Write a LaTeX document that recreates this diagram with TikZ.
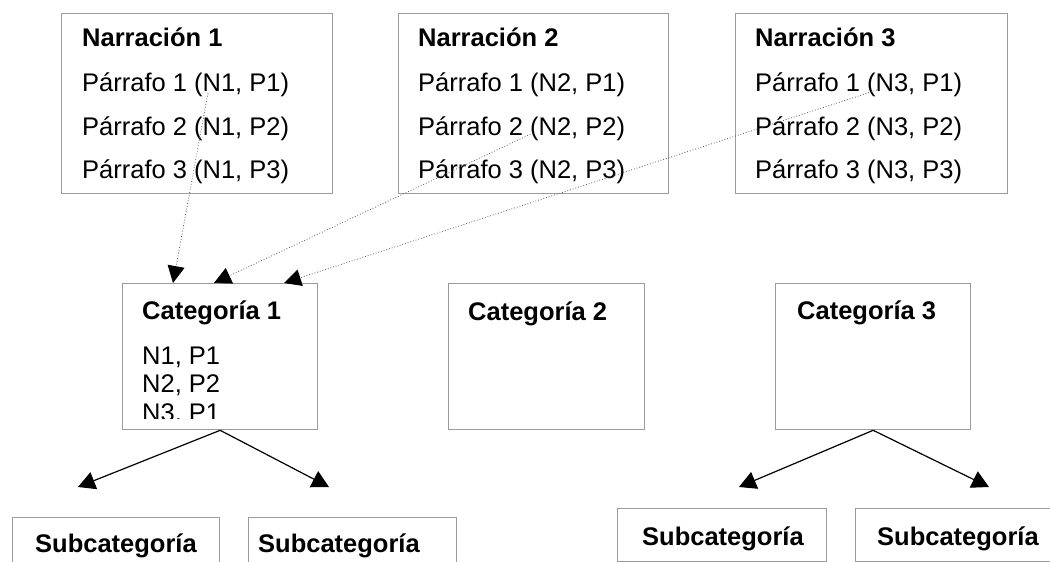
\documentclass[tikz,border=0pt]{standalone}
\usepackage{fontspec}
\setmainfont{Liberation Sans}
\usetikzlibrary{arrows.meta,calc}
\definecolor{boxgray}{RGB}{155,155,155}
\definecolor{linkgray}{RGB}{90,90,90}
\begin{document}
\begin{tikzpicture}[x=1pt,y=-1pt,
  box/.style={draw=boxgray,line width=1.3pt,anchor=north west,inner sep=0pt,fill=white},
  txt/.style={anchor=base west,inner sep=0pt,font=\fontsize{25.5}{28}\selectfont},
  btxt/.style={anchor=base west,inner sep=0pt,font=\fontsize{25.5}{28}\selectfont\bfseries},
  link/.style={draw=linkgray,line width=0.8pt,dotted,-{Triangle[length=17pt,width=17pt,color=black]}},
  drop/.style={draw=black,line width=1.2pt,-{Triangle[length=17pt,width=18pt]}}]
\clip (0,0) rectangle (1050,562);
\fill[white] (0,0) rectangle (1050,562);
% Narration boxes
\node[box,minimum width=271pt,minimum height=180pt] (n1) at (61,13) {};
\node[box,minimum width=270pt,minimum height=180pt] (n2) at (398,13) {};
\node[box,minimum width=272pt,minimum height=180pt] (n3) at (735,13) {};
\node[btxt] (n1h) at (82,46) {Narración 1};
\node[txt] (n1a) at (82,91) {Párrafo 1 (N1, P1)};
\node[txt] (n1b) at (82,135) {Párrafo 2 (N1, P2)};
\node[txt] (n1c) at (82,178) {Párrafo 3 (N1, P3)};
\node[btxt] (n2h) at (418,46) {Narración 2};
\node[txt] (n2a) at (418,91) {Párrafo 1 (N2, P1)};
\node[txt] (n2b) at (418,135) {Párrafo 2 (N2, P2)};
\node[txt] (n2c) at (418,178) {Párrafo 3 (N2, P3)};
\node[btxt] (n3h) at (755,46) {Narración 3};
\node[txt] (n3a) at (755,91) {Párrafo 1 (N3, P1)};
\node[txt] (n3b) at (755,135) {Párrafo 2 (N3, P2)};
\node[txt] (n3c) at (755,178) {Párrafo 3 (N3, P3)};
% Category boxes
\node[box,minimum width=195pt,minimum height=146pt] (c1) at (122,283) {};
\node[box,minimum width=196pt,minimum height=146pt] (c2) at (448,283) {};
\node[box,minimum width=195pt,minimum height=146pt] (c3) at (775,283) {};
\node[btxt] (c1h) at (142,319) {Categoría 1};
\begin{scope}
\clip (122,283) rectangle (317,418);
\node[txt] (c1a) at (142,364) {N1, P1};
\node[txt] (c1b) at (142,392) {N2, P2};
\node[txt] (c1c) at (142,421) {N3, P1};
\end{scope}
\node[btxt] (c2h) at (468,320) {Categoría 2};
\node[btxt] (c3h) at (797,319) {Categoría 3};
% Subcategory boxes
\node[box,minimum width=207pt,minimum height=70pt] (s1) at (12,517) {};
\node[box,minimum width=208pt,minimum height=70pt] (s2) at (248,517) {};
\node[box,minimum width=209pt,minimum height=53pt] (s3) at (617,508) {};
\node[box,minimum width=220pt,minimum height=53pt] (s4) at (855,508) {};
\node[btxt] (s1t) at (35,552) {Subcategoría};
\node[btxt] (s2t) at (258,552) {Subcategoría};
\node[btxt] (s3t) at (642,545) {Subcategoría};
\node[btxt] (s4t) at (877,545) {Subcategoría};
% dotted links
\coordinate (p1) at (208,93);
\coordinate (p2) at (533,133);
\coordinate (p3) at (877,90);
\draw[link] (p1) -- ($(c1.north west)+(51,0)$);
\draw[link] (p2) -- ($(c1.north west)+(92,0)$);
\draw[link] (p3) -- ($(c1.north west)+(162,0)$);
% category to subcategory arrows
\coordinate (e1) at (78,487);
\coordinate (e2) at (329,487);
\coordinate (e3) at (739,487);
\coordinate (e4) at (989,487);
\draw[drop] (c1.south) -- (e1);
\draw[drop] (c1.south) -- (e2);
\draw[drop] (c3.south) -- (e3);
\draw[drop] (c3.south) -- (e4);
\end{tikzpicture}
\end{document}
